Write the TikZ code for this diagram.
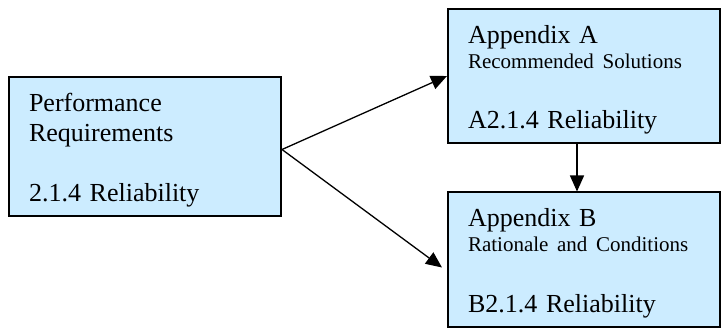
\documentclass[tikz,border=0pt]{standalone}
\usepackage{fontspec}
\setmainfont{Liberation Serif}
\usetikzlibrary{arrows.meta}
\definecolor{boxblue}{RGB}{204,236,255}
\tikzset{
  docbox/.style={draw, line width=2pt, fill=boxblue, align=left,
    text width=232pt, inner xsep=20pt, inner ysep=0pt, minimum width=272pt,
    font=\fontsize{26}{30}\selectfont},
  linkarrow/.style={line width=1.3pt, -{Triangle[length=16pt,width=14pt]}}
}
\newcommand{\subline}[1]{{\fontsize{21}{25}\selectfont #1}}

\begin{document}
\begin{tikzpicture}[x=1pt, y=1pt]
\useasboundingbox (0,0) rectangle (722,-328);
% boxes
\node[docbox, minimum height=139.5pt] (perf) at (145,-146.5)
  {\rule{0pt}{26.6pt}Performance\\ Requirements\\[30pt] 2.1.4 Reliability};
\node[docbox, minimum height=134pt] (appA) at (584,-76)
  {\rule{0pt}{25.6pt}Appendix A\\[-5pt] \subline{Recommended Solutions}\\[30pt] A2.1.4 Reliability};
\node[docbox, minimum height=134pt] (appB) at (584,-259.5)
  {\rule{0pt}{25.6pt}Appendix B\\[-5pt] \subline{Rationale and Conditions}\\[31pt] B2.1.4 Reliability};
%
\draw[linkarrow] ([yshift=-3pt]perf.east) -- (appA.west);
\draw[linkarrow] ([yshift=-3pt]perf.east) -- ([xshift=-5pt,yshift=-8pt]appB.west);
\draw[linkarrow] ([xshift=-7pt]appA.south) -- ([xshift=-7pt]appB.north);
\end{tikzpicture}
\end{document}
